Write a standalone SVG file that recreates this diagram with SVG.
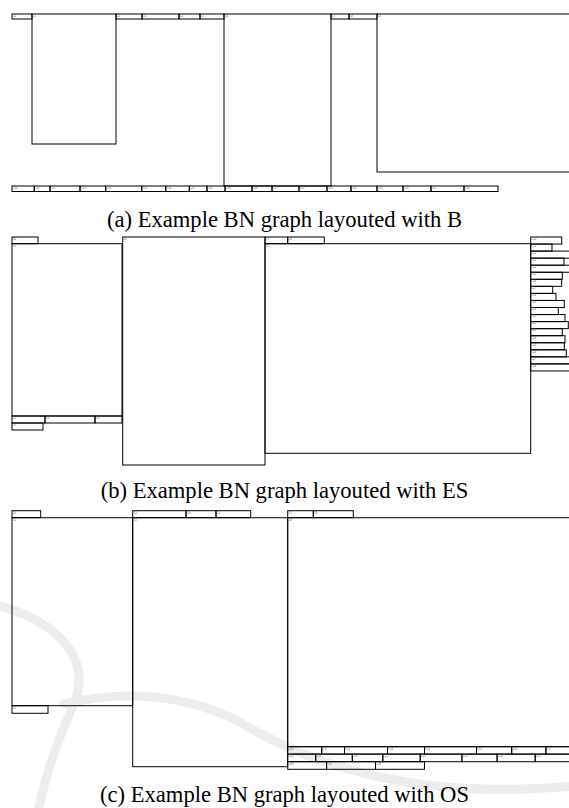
<svg xmlns="http://www.w3.org/2000/svg" width="569" height="808" viewBox="0 0 569 808">
  <style>
    .n rect { fill: none; stroke: #000; stroke-width: 1; }
    .n text { font-family: "Liberation Sans", Arial, sans-serif; font-size: 2.6px; fill: #555; }
    .cap { font-family: "Liberation Serif", "Times New Roman", serif; font-size: 22.6px; fill: #000; text-anchor: middle; }
    .wm { fill: none; stroke: #ededed; stroke-width: 9; stroke-linecap: round; }
  </style>
  <rect width="569" height="808" fill="#fff"/>

  <!-- faint background marks behind panel (c) -->
  <g id="watermark">
    <path class="wm" d="M -6,604 C 60,622 95,660 72,708 C 58,740 45,775 38,812"/>
    <path class="wm" d="M 64,704 C 120,690 190,692 250,728 C 320,768 420,800 575,786"/>
  </g>

  <!-- panel (a) -->
  <g id="panel-a">
    <g id="a-C0" class="n"><rect x="12" y="14" width="20" height="5"/><text x="12.7" y="16.6">C0</text></g>
    <g id="a-C1" class="n"><rect x="32" y="14" width="84" height="130"/><text x="32.7" y="16.6">C1</text></g>
    <g id="a-C2" class="n"><rect x="116" y="14" width="26" height="5"/><text x="116.7" y="16.6">C2</text></g>
    <g id="a-C3" class="n"><rect x="142" y="14" width="37" height="5"/><text x="142.7" y="16.6">C3</text></g>
    <g id="a-C4" class="n"><rect x="179" y="14" width="21" height="5"/><text x="179.7" y="16.6">C4</text></g>
    <g id="a-C5" class="n"><rect x="200" y="14" width="24" height="5"/><text x="200.7" y="16.6">C5</text></g>
    <g id="a-C6" class="n"><rect x="224" y="14" width="107" height="172"/><text x="224.7" y="16.6">C6</text></g>
    <g id="a-C7" class="n"><rect x="331" y="14" width="18" height="5"/><text x="331.7" y="16.6">C7</text></g>
    <g id="a-C8" class="n"><rect x="349" y="14" width="28" height="5"/><text x="349.7" y="16.6">C8</text></g>
    <g id="a-C9" class="n"><rect x="377" y="14" width="200" height="158"/><text x="377.7" y="16.6">C9</text></g>
    <g id="a-C10" class="n"><rect x="12" y="186" width="22.3" height="5.5"/><text x="12.7" y="188.6">C10</text></g>
    <g id="a-C11" class="n"><rect x="34.3" y="186" width="15.7" height="5.5"/><text x="35" y="188.6">C11</text></g>
    <g id="a-C12" class="n"><rect x="50" y="186" width="30" height="5.5"/><text x="50.7" y="188.6">C12</text></g>
    <g id="a-C13" class="n"><rect x="80" y="186" width="25.7" height="5.5"/><text x="80.7" y="188.6">C13</text></g>
    <g id="a-C14" class="n"><rect x="105.7" y="186" width="36" height="5.5"/><text x="106.4" y="188.6">C14</text></g>
    <g id="a-C15" class="n"><rect x="141.7" y="186" width="24" height="5.5"/><text x="142.4" y="188.6">C15</text></g>
    <g id="a-C16" class="n"><rect x="165.7" y="186" width="23.6" height="5.5"/><text x="166.4" y="188.6">C16</text></g>
    <g id="a-C17" class="n"><rect x="189.3" y="186" width="17.7" height="5.5"/><text x="190" y="188.6">C17</text></g>
    <g id="a-C18" class="n"><rect x="207" y="186" width="18" height="5.5"/><text x="207.7" y="188.6">C18</text></g>
    <g id="a-C19" class="n"><rect x="225" y="186" width="27" height="5.5"/><text x="225.7" y="188.6">C19</text></g>
    <g id="a-C20" class="n"><rect x="252" y="186" width="20" height="5.5"/><text x="252.7" y="188.6">C20</text></g>
    <g id="a-C21" class="n"><rect x="272" y="186" width="27" height="5.5"/><text x="272.7" y="188.6">C21</text></g>
    <g id="a-C22" class="n"><rect x="299" y="186" width="28" height="5.5"/><text x="299.7" y="188.6">C22</text></g>
    <g id="a-C23" class="n"><rect x="327" y="186" width="24" height="5.5"/><text x="327.7" y="188.6">C23</text></g>
    <g id="a-C24" class="n"><rect x="351" y="186" width="26" height="5.5"/><text x="351.7" y="188.6">C24</text></g>
    <g id="a-C25" class="n"><rect x="377" y="186" width="26" height="5.5"/><text x="377.7" y="188.6">C25</text></g>
    <g id="a-C26" class="n"><rect x="403" y="186" width="28" height="5.5"/><text x="403.7" y="188.6">C26</text></g>
    <g id="a-C27" class="n"><rect x="431" y="186" width="33" height="5.5"/><text x="431.7" y="188.6">C27</text></g>
    <g id="a-C28" class="n"><rect x="464" y="186" width="34" height="5.5"/><text x="464.7" y="188.6">C28</text></g>
  </g>
  <text class="cap" x="284.5" y="227">(a) Example BN graph layouted with B</text>

  <!-- panel (b) -->
  <g id="panel-b">
    <g id="b-C0" class="n"><rect x="12" y="237" width="26" height="6.7"/><text x="12.7" y="239.8">C0</text></g>
    <g id="b-C1" class="n"><rect x="12" y="243.7" width="110" height="172.3"/><text x="12.7" y="246.5">C1</text></g>
    <g id="b-C2" class="n"><rect x="12" y="416" width="33" height="7"/><text x="12.7" y="418.8">C2</text></g>
    <g id="b-C3" class="n"><rect x="45" y="416" width="50" height="7"/><text x="45.7" y="418.8">C3</text></g>
    <g id="b-C4" class="n"><rect x="95" y="416" width="27" height="7"/><text x="95.7" y="418.8">C4</text></g>
    <g id="b-C5" class="n"><rect x="12" y="423" width="31" height="7"/><text x="12.7" y="425.8">C5</text></g>
    <g id="b-C6" class="n"><rect x="122.7" y="237" width="142.3" height="228"/><text x="123.4" y="239.8">C6</text></g>
    <g id="b-C7" class="n"><rect x="265" y="237" width="22.7" height="6.7"/><text x="265.7" y="239.8">C7</text></g>
    <g id="b-C8" class="n"><rect x="287.7" y="237" width="36.6" height="6.7"/><text x="288.4" y="239.8">C8</text></g>
    <g id="b-C9" class="n"><rect x="265" y="243.7" width="265.7" height="209.6"/><text x="265.7" y="246.5">C9</text></g>
    <g id="b-C10" class="n"><rect x="530.7" y="237" width="31" height="7.05"/><text x="531.4" y="239.8">C10</text></g>
    <g id="b-C11" class="n"><rect x="530.7" y="244.05" width="21.3" height="7.05"/><text x="531.4" y="246.85">C11</text></g>
    <g id="b-C12" class="n"><rect x="530.7" y="251.1" width="45" height="7.05"/><text x="531.4" y="253.9">C12</text></g>
    <g id="b-C13" class="n"><rect x="530.7" y="258.15" width="33.3" height="7.05"/><text x="531.4" y="260.95">C13</text></g>
    <g id="b-C14" class="n"><rect x="530.7" y="265.2" width="45" height="7.05"/><text x="531.4" y="268">C14</text></g>
    <g id="b-C15" class="n"><rect x="530.7" y="272.25" width="31.6" height="7.05"/><text x="531.4" y="275.05">C15</text></g>
    <g id="b-C16" class="n"><rect x="530.7" y="279.3" width="31" height="7.05"/><text x="531.4" y="282.1">C16</text></g>
    <g id="b-C17" class="n"><rect x="530.7" y="286.35" width="22" height="7.05"/><text x="531.4" y="289.15">C17</text></g>
    <g id="b-C18" class="n"><rect x="530.7" y="293.4" width="25.3" height="7.05"/><text x="531.4" y="296.2">C18</text></g>
    <g id="b-C19" class="n"><rect x="530.7" y="300.45" width="33.6" height="7.05"/><text x="531.4" y="303.25">C19</text></g>
    <g id="b-C20" class="n"><rect x="530.7" y="307.5" width="27.6" height="7.05"/><text x="531.4" y="310.3">C20</text></g>
    <g id="b-C21" class="n"><rect x="530.7" y="314.55" width="34.3" height="7.05"/><text x="531.4" y="317.35">C21</text></g>
    <g id="b-C22" class="n"><rect x="530.7" y="321.6" width="37.6" height="7.05"/><text x="531.4" y="324.4">C22</text></g>
    <g id="b-C23" class="n"><rect x="530.7" y="328.65" width="31.6" height="7.05"/><text x="531.4" y="331.45">C23</text></g>
    <g id="b-C24" class="n"><rect x="530.7" y="335.7" width="34.3" height="7.05"/><text x="531.4" y="338.5">C24</text></g>
    <g id="b-C25" class="n"><rect x="530.7" y="342.75" width="33.6" height="7.05"/><text x="531.4" y="345.55">C25</text></g>
    <g id="b-C26" class="n"><rect x="530.7" y="349.8" width="35.6" height="7.05"/><text x="531.4" y="352.6">C26</text></g>
    <g id="b-C27" class="n"><rect x="530.7" y="356.85" width="45" height="7.05"/><text x="531.4" y="359.65">C27</text></g>
    <g id="b-C28" class="n"><rect x="530.7" y="363.9" width="45" height="7.05"/><text x="531.4" y="366.7">C28</text></g>
  </g>
  <text class="cap" x="284.5" y="498">(b) Example BN graph layouted with ES</text>

  <!-- panel (c) -->
  <g id="panel-c">
    <g id="c-C0" class="n"><rect x="12" y="510.7" width="28.7" height="7"/><text x="12.7" y="513.5">C0</text></g>
    <g id="c-C1" class="n"><rect x="12" y="517.7" width="120.7" height="188"/><text x="12.7" y="520.5">C1</text></g>
    <g id="c-C2" class="n"><rect x="12" y="705.7" width="36" height="7.6"/><text x="12.7" y="708.5">C2</text></g>
    <g id="c-C3" class="n"><rect x="132.7" y="510.7" width="53.3" height="7"/><text x="133.4" y="513.5">C3</text></g>
    <g id="c-C4" class="n"><rect x="186" y="510.7" width="30" height="7"/><text x="186.7" y="513.5">C4</text></g>
    <g id="c-C5" class="n"><rect x="216" y="510.7" width="34.7" height="7"/><text x="216.7" y="513.5">C5</text></g>
    <g id="c-C6" class="n"><rect x="132.7" y="517.7" width="155" height="249"/><text x="133.4" y="520.5">C6</text></g>
    <g id="c-C7" class="n"><rect x="287.7" y="510.7" width="25.6" height="7"/><text x="288.4" y="513.5">C7</text></g>
    <g id="c-C8" class="n"><rect x="313.3" y="510.7" width="40" height="7"/><text x="314" y="513.5">C8</text></g>
    <g id="c-C9" class="n"><rect x="287.7" y="517.7" width="290" height="229"/><text x="288.4" y="520.5">C9</text></g>
    <g id="c-C10" class="n"><rect x="287.7" y="746.7" width="34" height="7.4"/><text x="288.4" y="749.5">C10</text></g>
    <g id="c-C11" class="n"><rect x="321.7" y="746.7" width="22.8" height="7.4"/><text x="322.4" y="749.5">C11</text></g>
    <g id="c-C12" class="n"><rect x="344.5" y="746.7" width="43" height="7.4"/><text x="345.2" y="749.5">C12</text></g>
    <g id="c-C13" class="n"><rect x="387.5" y="746.7" width="37" height="7.4"/><text x="388.2" y="749.5">C13</text></g>
    <g id="c-C14" class="n"><rect x="424.5" y="746.7" width="52" height="7.4"/><text x="425.2" y="749.5">C14</text></g>
    <g id="c-C15" class="n"><rect x="476.5" y="746.7" width="35.2" height="7.4"/><text x="477.2" y="749.5">C15</text></g>
    <g id="c-C16" class="n"><rect x="511.7" y="746.7" width="34.2" height="7.4"/><text x="512.4" y="749.5">C16</text></g>
    <g id="c-C17" class="n"><rect x="545.9" y="746.7" width="35" height="7.4"/><text x="546.6" y="749.5">C17</text></g>
    <g id="c-C18" class="n"><rect x="287.7" y="754.1" width="28" height="7.6"/><text x="288.4" y="756.9">C18</text></g>
    <g id="c-C19" class="n"><rect x="315.7" y="754.1" width="36.6" height="7.6"/><text x="316.4" y="756.9">C19</text></g>
    <g id="c-C20" class="n"><rect x="352.3" y="754.1" width="30.5" height="7.6"/><text x="353" y="756.9">C20</text></g>
    <g id="c-C21" class="n"><rect x="382.8" y="754.1" width="37.4" height="7.6"/><text x="383.5" y="756.9">C21</text></g>
    <g id="c-C22" class="n"><rect x="420.2" y="754.1" width="41.7" height="7.6"/><text x="420.9" y="756.9">C22</text></g>
    <g id="c-C23" class="n"><rect x="461.9" y="754.1" width="35.2" height="7.6"/><text x="462.6" y="756.9">C23</text></g>
    <g id="c-C24" class="n"><rect x="497.1" y="754.1" width="38.1" height="7.6"/><text x="497.8" y="756.9">C24</text></g>
    <g id="c-C25" class="n"><rect x="535.2" y="754.1" width="45" height="7.6"/><text x="535.9" y="756.9">C25</text></g>
    <g id="c-C26" class="n"><rect x="287.7" y="761.7" width="38.9" height="7.6"/><text x="288.4" y="764.5">C26</text></g>
    <g id="c-C27" class="n"><rect x="326.6" y="761.7" width="48.9" height="7.6"/><text x="327.3" y="764.5">C27</text></g>
    <g id="c-C28" class="n"><rect x="375.5" y="761.7" width="49" height="7.6"/><text x="376.2" y="764.5">C28</text></g>
  </g>
  <text class="cap" x="284.5" y="802">(c) Example BN graph layouted with OS</text>

  <!-- the layouts carry no drawn edges -->
  <g id="connectors"/>
</svg>
